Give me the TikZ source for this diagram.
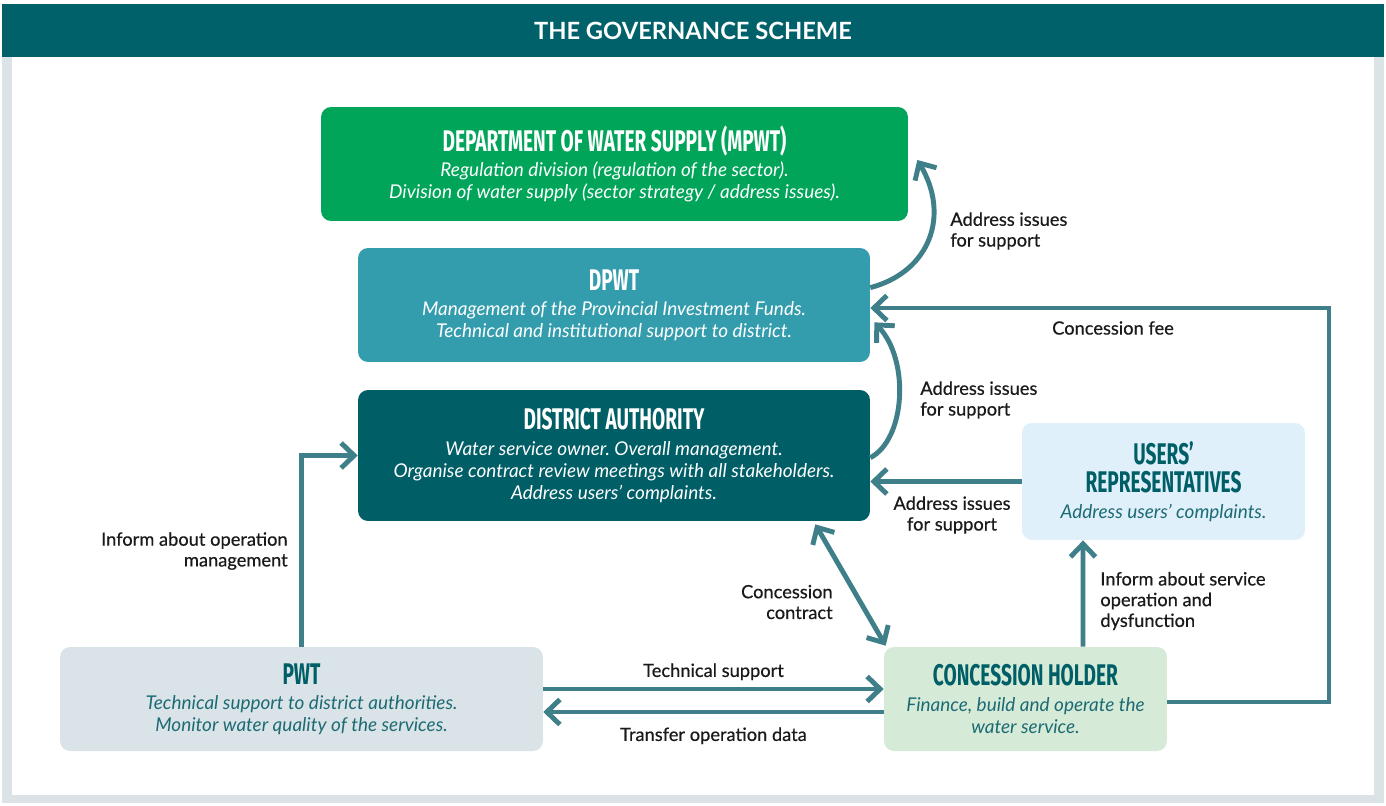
\documentclass[tikz,border=0pt]{standalone}
\usepackage{fontspec}
\setmainfont{Lato}
\newfontfamily\headfont[FakeStretch=0.64]{Fira Sans}
\usetikzlibrary{arrows.meta,calc}
\frenchspacing

\definecolor{schemeteal}{HTML}{00616A}
\definecolor{framegray}{HTML}{DCE3E7}
\definecolor{mpwtgreen}{HTML}{00A55A}
\definecolor{dpwtblue}{HTML}{339DAD}
\definecolor{districtteal}{HTML}{005E66}
\definecolor{usersblue}{HTML}{DFF0FB}
\definecolor{pwtgray}{HTML}{DAE3E8}
\definecolor{holdergreen}{HTML}{D6EAD8}
\definecolor{flowteal}{HTML}{3F7F89}
\definecolor{headteal}{HTML}{005F66}
\definecolor{bodyteal}{HTML}{1C6B73}
\definecolor{labelgray}{HTML}{1A1A1A}

\newcommand\boxtitle[1]{{\headfont\upshape\bfseries\fontsize{17}{17}\selectfont #1}}

\begin{document}
\begin{tikzpicture}[x=0.02cm,y=-0.02cm,
    >={Straight Barb[length=0.26cm,width=0.5cm]},
    block/.style={rounded corners=0.2cm, align=center, inner sep=0pt,
        font=\itshape\fontsize{10.8}{12.5}\selectfont},
    flow/.style={draw=flowteal, line width=2.8pt, ->},
    note/.style={font=\fontsize{10.4}{11.8}\selectfont\addfontfeature{FakeBold=0.5}, text=labelgray, inner sep=0pt}]
    \useasboundingbox (0,0) rectangle (1386,805);

    % frame and title bar
    \fill[framegray] (2,57) rectangle (1384,803);
    \fill[white] (12,57) rectangle (1374,795);
    \fill[schemeteal] (2,4) rectangle (1384,57);
    \node[font=\bfseries\fontsize{13.5}{15}\selectfont, text=white] (title) at (693,31) {THE GOVERNANCE SCHEME};

    % actors
    \node[block, fill=mpwtgreen, text=white, minimum width=11.74cm, minimum height=2.28cm] (mpwt) at (614.5,164)
        {\boxtitle{DEPARTMENT OF WATER SUPPLY (MPWT)}\\[2pt]
         Regulation division (regulation of the sector).\\
         Division of water supply (sector strategy / address issues).};
    \node[block, fill=dpwtblue, text=white, minimum width=10.24cm, minimum height=2.28cm] (dpwt) at (614,305)
        {\boxtitle{DPWT}\\[2pt]
         Management of the Provincial Investment Funds.\\
         Technical and institutional support to district.};
    \node[block, fill=districtteal, text=white, minimum width=10.24cm, minimum height=2.62cm] (da) at (614,455.5)
        {\boxtitle{DISTRICT AUTHORITY}\\[2pt]
         Water service owner. Overall management.\\
         Organise contract review meetings with all stakeholders.\\
         Address users’ complaints.};
    \node[block, fill=usersblue, text=bodyteal, minimum width=5.66cm, minimum height=2.34cm] (users) at (1163.5,481.5)
        {\textcolor{headteal}{\boxtitle{USERS’}}\\[3.5pt]
         \textcolor{headteal}{\boxtitle{REPRESENTATIVES}}\\[2pt]
         Address users’ complaints.};
    \node[block, fill=pwtgray, text=bodyteal, minimum width=9.66cm, minimum height=2.08cm] (pwt) at (301.5,699)
        {\textcolor{headteal}{\boxtitle{PWT}}\\[2pt]
         Technical support to district authorities.\\
         Monitor water quality of the services.};
    \node[block, fill=holdergreen, text=bodyteal, minimum width=5.66cm, minimum height=2.08cm] (ch) at (1025.5,699)
        {\textcolor{headteal}{\boxtitle{CONCESSION HOLDER}}\\[2pt]
         Finance, build and operate the\\
         water service.};

    % flows
    \draw[flow] ($(dpwt.north east)+(0,40)$) .. controls +(60,-16) and +(33,55) .. ($(mpwt.east)+(9,-4)$);
    \node[note, align=left, anchor=west] (mpwtnote) at (950,231) {Address issues\\for support};

    \draw[flow] ($(da.north east)+(0,68)$) .. controls +(35,-18) and +(36,38) .. ($(dpwt.south east)+(4,-40)$);
    \node[note, align=left, anchor=west] (dpwtnote) at (920,400) {Address issues\\for support};

    \coordinate (feecorner) at (1329,308);
    \draw[flow] ([yshift=-0.06cm]ch.east) -| (feecorner) -- (feecorner -| dpwt.east);
    \node[note] (feenote) at (1113,328) {Concession fee};

    \draw[flow] (users.west) -- (users.west -| da.east);
    \node[note, align=center] (usersnote) at (952,515) {Address issues\\for support};

    \draw[flow] ($(ch.north)+(57.5,0)$) -- ($(users.south)+(-80.5,0)$);
    \node[note, align=left, anchor=west] (servicenote) at (1100,601) {Inform about service\\operation and\\dysfunction};

    \draw[flow, <->] ($(da.south east)+(-55,3)$) -- ($(ch.north west)+(2,-1)$);
    \node[note, align=right, anchor=east] (contractnote) at (833,602) {Concession\\contract};

    \draw[flow] (pwt.north) |- (da.west);
    \node[note, align=right, anchor=east] (pwtnote) at (288,551) {Inform about operation\\management};

    \draw[flow] ([yshift=0.2cm]pwt.east) -- ([yshift=0.2cm]ch.west)
        node[note, midway, above=0.13cm] (technote) {Technical support};
    \draw[flow] ([yshift=-0.26cm]ch.west) -- ([yshift=-0.26cm]pwt.east)
        node[note, midway, below=0.26cm] (datanote) {Transfer operation data};
\end{tikzpicture}
\end{document}
